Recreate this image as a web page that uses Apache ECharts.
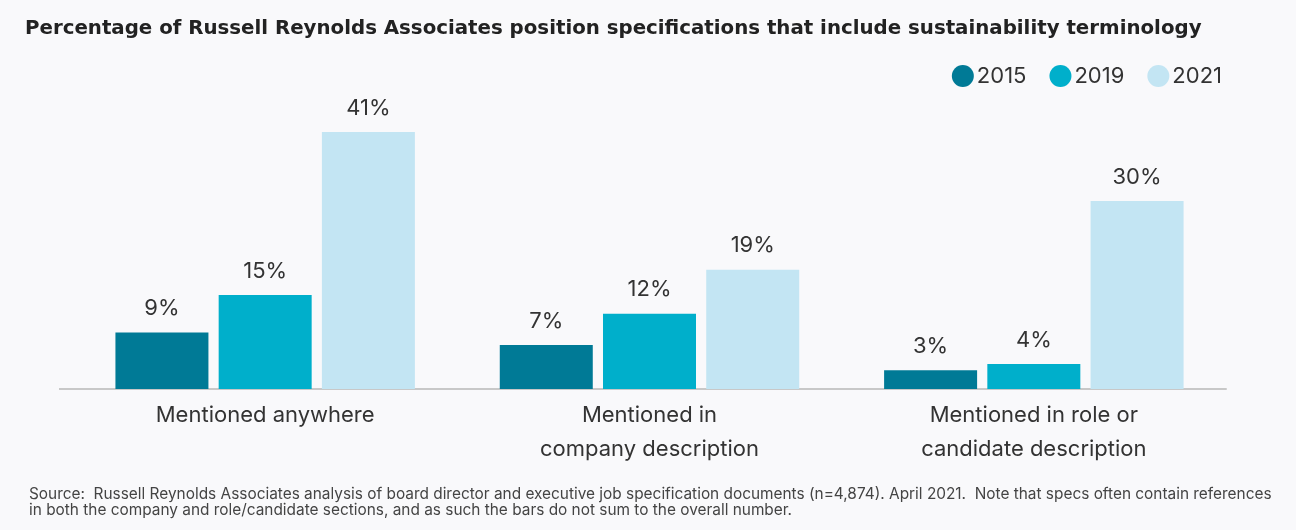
<!DOCTYPE html>
<html>
<head>
<meta charset="utf-8">
<script src="https://cdn.jsdelivr.net/npm/echarts@6/dist/echarts.min.js"></script>
<style>
  html, body { margin: 0; padding: 0; background: #f9f9fb; }
  #chart { width: 1296px; height: 530px; }
</style>
</head>
<body>
<div id="chart"></div>
<script>
const categories = ['Mentioned anywhere', 'Mentioned in\ncompany description', 'Mentioned in role or\ncandidate description']
const years = ['2015', '2019', '2021']
const values2015 = [9, 7, 3]
const values2019 = [15, 12, 4]
const values2021 = [41, 19, 30]
const colors = ['#007a96', '#00afcb', '#c3e5f3']

const FONT = 'Inter, "Noto Sans", sans-serif'
const chart = echarts.init(document.getElementById('chart'))

const seriesData = [values2015, values2019, values2021]

chart.setOption({
  backgroundColor: '#f9f9fb',
  animation: false,
  textStyle: { fontFamily: FONT },
  title: [
    {
      text: 'Percentage of Russell Reynolds Associates position specifications that include sustainability terminology',
      left: 20,
      top: 14,
      textStyle: { fontSize: 19.8, fontWeight: 'bold', color: '#222', fontFamily: '"DejaVu Sans", sans-serif' }
    },
    {
      text: 'Source:  Russell Reynolds Associates analysis of board director and executive job specification documents (n=4,874). April 2021.  Note that specs often contain references\nin both the company and role/candidate sections, and as such the bars do not sum to the overall number.',
      left: 24,
      top: 481,
      textStyle: { fontSize: 15.4, fontWeight: 400, color: '#444', lineHeight: 16.5, fontFamily: FONT }
    }
  ],
  legend: {
    right: 69,
    top: 60,
    icon: 'circle',
    itemWidth: 22,
    itemHeight: 22,
    itemGap: 23,
    textStyle: { fontSize: 22, color: '#333', padding: [0, 0, 0, -2] },
    data: years
  },
  grid: {
    left: 73,
    right: 70,
    top: 75.5,
    bottom: 141
  },
  xAxis: {
    type: 'category',
    data: categories,
    axisLine: { lineStyle: { color: '#c8c8c8', width: 2 } },
    axisTick: { show: false },
    axisLabel: {
      fontSize: 22,
      color: '#333',
      lineHeight: 34,
      margin: 9
    }
  },
  yAxis: {
    type: 'value',
    min: 0,
    max: 50,
    show: false,
    splitLine: { show: false }
  },
  graphic: [
    {
      type: 'line',
      shape: { x1: 59, y1: 389, x2: 74, y2: 389 },
      style: { stroke: '#c8c8c8', lineWidth: 2 }
    }
  ],
  series: years.map((y, i) => ({
    name: y,
    type: 'bar',
    data: seriesData[i],
    barWidth: 93,
    barGap: '11%',
    itemStyle: { color: colors[i] },
    label: {
      show: true,
      position: 'top',
      distance: 13,
      fontSize: 22,
      color: '#333',
      formatter: '{c}%'
    }
  }))
})
</script>
</body>
</html>
